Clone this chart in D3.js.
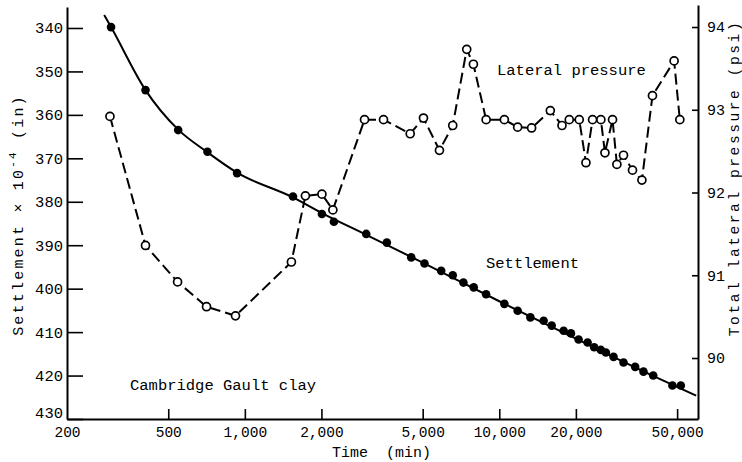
<!DOCTYPE html>
<html>
<head>
<meta charset="utf-8">
<script src="https://cdn.jsdelivr.net/npm/d3@7"></script>
<style>
  html, body { margin: 0; padding: 0; background: #fff; }
  svg { display: block; }
  text { font-family: "Liberation Mono", "DejaVu Sans Mono", monospace; fill: #000; }
</style>
</head>
<body>
<svg id="chart" width="742" height="462"></svg>
<script>
// ---- data ----
const settleTime = [298, 407, 547, 713, 932, 1546, 2009, 2239, 3000, 3615, 4508, 5083, 5912, 6563,
  7229, 7934, 8877, 10470, 11810, 13250, 14940, 16070, 17900, 19130, 20500, 22240, 23610, 25080,
  26240, 28120, 30780, 34200, 36880, 40270, 47920, 51700];
const settleValue = [339.8, 354.3, 363.5, 368.5, 373.4, 378.8, 382.8, 384.6, 387.4, 389.4, 392.8, 394.2,
  395.9, 396.9, 398.6, 399.7, 401.3, 403.5, 405.1, 406.6, 407.4, 408.5, 409.7, 410.3, 411.7, 412.4,
  413.5, 414.1, 414.7, 415.7, 417.0, 418.0, 419.1, 420.0, 422.3, 422.3];

// smooth settlement curve drawn through the points
const fitTime  = [280, 298, 407, 547, 713, 932, 1546, 2009, 3000, 5000, 10000, 20000, 40000, 59400];
const fitValue = [337.0, 339.8, 354.3, 363.4, 368.6, 373.3, 379.0, 382.6, 387.6, 394.0, 402.9, 411.5, 420.0, 424.6];

const pressTime = [295, 407, 544, 707, 919, 1524, 1730, 2009, 2218, 2954, 3508, 4466, 5036, 5819, 6563,
  7449, 7912, 8877, 10470, 11810, 13400, 15870, 17640, 18840, 20620, 21910, 23260, 25080, 26020,
  27870, 28990, 30780, 33390, 36360, 40000, 48660, 51240];
const pressValue = [92.92, 91.36, 90.92, 90.62, 90.51, 91.16, 91.96, 91.98, 91.79, 92.88, 92.88, 92.71,
  92.90, 92.51, 92.81, 93.73, 93.55, 92.88, 92.88, 92.79, 92.78, 92.99, 92.81, 92.88, 92.88, 92.36,
  92.88, 92.88, 92.48, 92.88, 92.34, 92.45, 92.27, 92.15, 93.17, 93.59, 92.88];

const timeTicks = [200, 500, 1000, 2000, 5000, 10000, 20000, 50000];
const settleTicks = [340, 350, 360, 370, 380, 390, 400, 410, 420, 430];
const pressTicks = [90, 91, 92, 93, 94];

// ---- scales ----
const svg = d3.select("#chart");
const x = d3.scaleLog().domain([200, 60400]).range([67, 698]);
const yL = d3.scaleLinear().domain([335.17, 430]).range([7, 419]);
const yR = d3.scaleLinear().domain([89.263, 94.266]).range([419, 5]);

// ---- axes ----
const fmt = d3.format(",");
const gx = svg.append("g").attr("transform", "translate(0,419)")
  .call(d3.axisBottom(x).tickValues(timeTicks).tickFormat(fmt).tickSize(-10).tickSizeOuter(0).tickPadding(8));
const gl = svg.append("g").attr("transform", "translate(67,0)")
  .call(d3.axisLeft(yL).tickValues(settleTicks).tickFormat(d3.format("d")).tickSize(-16).tickSizeOuter(0).tickPadding(4));
const gr = svg.append("g").attr("transform", "translate(698,0)")
  .call(d3.axisRight(yR).tickValues(pressTicks).tickFormat(d3.format("d")).tickSize(-6).tickSizeOuter(0).tickPadding(9));

[gx, gl, gr].forEach(g => {
  g.select(".domain").attr("stroke", "#000").attr("stroke-width", 2);
  g.selectAll(".tick line").attr("stroke", "#000").attr("stroke-width", 1.6);
  g.selectAll(".tick text").attr("font-family", "Liberation Mono, DejaVu Sans Mono, monospace").attr("fill", "#000");
});
gx.selectAll(".tick text").attr("font-size", 14.5);
gl.selectAll(".tick text").attr("font-size", 15.5);
gr.selectAll(".tick text").attr("font-size", 15);
gl.selectAll(".tick").filter(d => d === 430).select("text").attr("dy", "-0.1em");
gx.selectAll(".tick").filter(d => d === 200).select("line").remove();

// ---- settlement curve & points ----
const fitData = fitTime.map((t, i) => [t, fitValue[i]]);
svg.append("path")
  .attr("d", d3.line().x(d => x(d[0])).y(d => yL(d[1])).curve(d3.curveMonotoneX)(fitData))
  .attr("fill", "none").attr("stroke", "#000").attr("stroke-width", 2);

const settleData = settleTime.map((t, i) => [t, settleValue[i]]);
svg.append("g").selectAll("circle").data(settleData).join("circle")
  .attr("cx", d => x(d[0])).attr("cy", d => yL(d[1])).attr("r", 4.3).attr("fill", "#000");

// ---- lateral pressure dashed line & open circles ----
const pressData = pressTime.map((t, i) => [t, pressValue[i]]);
svg.append("path")
  .attr("d", d3.line().x(d => x(d[0])).y(d => yR(d[1]))(pressData))
  .attr("fill", "none").attr("stroke", "#000").attr("stroke-width", 2)
  .attr("stroke-dasharray", "11,5");
svg.append("g").selectAll("circle").data(pressData).join("circle")
  .attr("cx", d => x(d[0])).attr("cy", d => yR(d[1])).attr("r", 4)
  .attr("fill", "#fff").attr("stroke", "#000").attr("stroke-width", 1.7);

// ---- annotations ----
svg.append("text").attr("x", 497).attr("y", 75).attr("font-size", 15.5).text("Lateral pressure");
svg.append("text").attr("x", 486).attr("y", 268).attr("font-size", 15.5).text("Settlement");
svg.append("text").attr("x", 130).attr("y", 390).attr("font-size", 15.5).text("Cambridge Gault clay");

// axis titles
svg.append("text").attr("x", 332).attr("y", 457).attr("font-size", 15)
  .attr("xml:space", "preserve").style("white-space", "pre").text("Time  (min)");

const lt = svg.append("text").attr("transform", "translate(23,215) rotate(-90)")
  .attr("text-anchor", "middle").attr("font-size", 15).attr("letter-spacing", 2.2);
lt.append("tspan").text("Settlement × 10");
lt.append("tspan").attr("font-size", 11).attr("dy", -7).text("-4");
lt.append("tspan").attr("dy", 7).text(" (in)");

svg.append("text").attr("transform", "translate(739,178) rotate(-90)")
  .attr("text-anchor", "middle").attr("font-size", 14.5).attr("letter-spacing", 2.6)
  .text("Total lateral pressure (psi)");
</script>
</body>
</html>
